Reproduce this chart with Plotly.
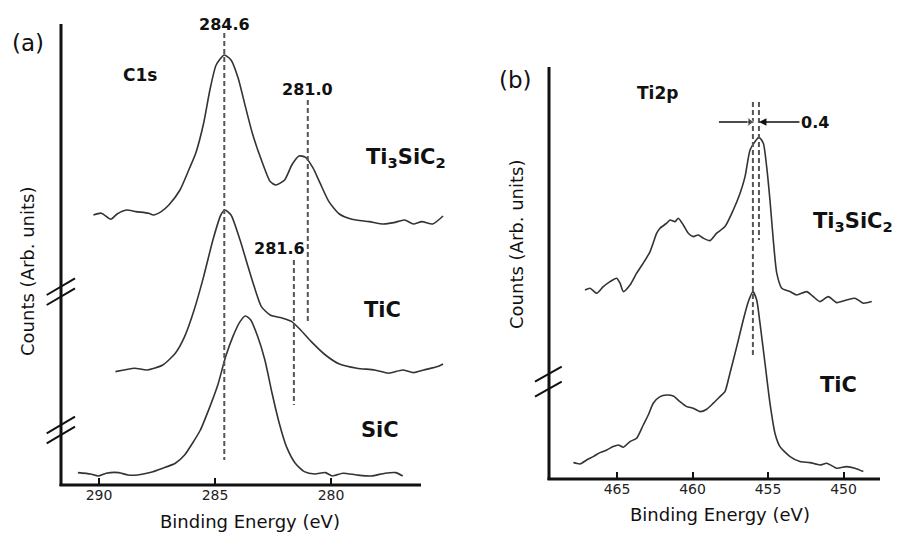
import plotly.graph_objects as go

# ---------------- (a) C1s spectra: binding energy (eV) / counts (arb.) ----------------
c1s_ti3sic2_E = [290.24, 289.90, 289.49, 289.22, 288.82, 288.41, 287.86, 287.66, 287.32, 286.99,
                 286.51, 286.10, 285.83, 285.49, 285.22, 284.95, 284.60, 284.31, 284.00, 283.69,
                 283.39, 283.00, 282.62, 282.38, 282.00, 281.69, 281.38, 281.11, 280.77, 280.47,
                 280.09, 279.64, 279.10, 278.35, 277.74, 277.29, 276.83, 276.45, 276.08, 275.62, 275.17]
c1s_ti3sic2_I = [135.0, 135.9, 132.9, 135.5, 137.5, 136.7, 135.9, 135.0, 136.7, 140.0,
                 147.5, 158.4, 165.9, 180.9, 197.5, 210.0, 215.0, 212.5, 203.4, 189.2,
                 175.9, 162.5, 151.7, 150.0, 152.5, 160.0, 164.5, 163.9, 158.4, 150.9,
                 141.7, 135.5, 132.9, 131.7, 130.5, 131.2, 132.5, 130.5, 131.7, 130.5, 134.5]

c1s_tic_E = [289.29, 288.47, 287.93, 287.25, 286.71, 286.31, 285.90, 285.49, 285.09, 284.75,
             284.57, 284.31, 283.92, 283.62, 283.31, 283.00, 282.62, 282.08, 281.69, 281.31,
             280.85, 280.24, 279.64, 278.88, 278.12, 277.51, 276.91, 276.45, 276.00, 275.40, 275.17]
c1s_tic_I = [56.7, 58.4, 57.5, 60.0, 65.9, 74.2, 87.5, 104.2, 122.5, 135.0,
             137.5, 135.0, 122.5, 110.9, 99.2, 89.2, 85.0, 83.4, 81.7, 77.5,
             71.7, 65.0, 60.5, 58.4, 57.5, 55.9, 57.5, 56.2, 57.5, 59.2, 60.5]

c1s_sic_E = [290.91, 290.37, 290.03, 289.69, 289.15, 288.75, 288.34, 287.80, 287.25, 286.71,
             286.31, 285.97, 285.63, 285.22, 284.88, 284.54, 284.23, 283.92, 283.69, 283.46,
             283.16, 282.85, 282.54, 282.23, 281.92, 281.54, 281.15, 280.70, 280.24, 279.94,
             279.49, 278.88, 278.27, 277.67, 277.21, 276.91]
c1s_sic_I = [6.2, 5.5, 4.5, 5.9, 6.2, 5.0, 5.0, 6.2, 8.4, 10.9,
             15.0, 20.9, 27.5, 39.2, 50.0, 64.2, 74.2, 81.7, 84.5, 82.5,
             74.2, 62.5, 45.9, 30.9, 19.2, 10.9, 6.7, 5.5, 6.2, 4.5,
             5.9, 5.0, 4.5, 5.9, 6.2, 4.5]

c1s_ticks = [290, 285, 280]
c1s_marks = [284.6, 281.0, 281.6]            # marked peak positions (eV)
c1s_mark_spans = [(226, 12.5), (192.5, 80.8), (112.5, 40.0)]

# ---------------- (b) Ti2p spectra ----------------
ti2p_ti3sic2_E = [467.12, 466.79, 466.34, 465.91, 465.46, 465.02, 464.80, 464.58, 464.14, 463.70,
                  463.26, 462.81, 462.37, 462.15, 461.71, 461.49, 461.16, 460.94, 460.61, 460.28,
                  459.95, 459.62, 459.28, 458.84, 458.40, 457.85, 457.30, 456.85, 456.52, 456.19,
                  455.86, 455.60, 455.31, 455.09, 454.87, 454.65, 454.42, 454.09, 453.54, 453.10,
                  452.44, 452.00, 451.56, 451.01, 450.45, 449.79, 449.24, 448.69, 448.13]
ti2p_ti3sic2_I = [94.5, 95.4, 92.9, 96.2, 98.7, 100.4, 97.9, 93.7, 97.0, 102.9,
                  107.9, 113.7, 122.9, 125.4, 127.9, 129.5, 128.7, 130.4, 127.0, 122.9,
                  121.2, 122.0, 120.4, 119.2, 122.9, 126.2, 134.5, 142.9, 151.2, 164.5,
                  168.7, 170.9, 167.9, 156.2, 139.5, 119.5, 102.9, 95.4, 93.7, 92.0,
                  93.7, 91.2, 88.7, 91.2, 88.2, 89.5, 90.4, 87.9, 88.7]

ti2p_tic_E = [467.89, 467.45, 467.01, 466.57, 466.13, 465.68, 465.25, 464.91, 464.58, 464.14,
              463.70, 463.26, 462.93, 462.60, 462.15, 461.71, 461.27, 460.83, 460.38, 459.95,
              459.50, 459.06, 458.62, 458.18, 457.85, 457.52, 457.07, 456.64, 456.30, 456.00,
              455.75, 455.53, 455.20, 454.87, 454.54, 454.21, 453.54, 452.88, 452.22, 451.56,
              451.11, 450.45, 449.79, 449.24, 448.69]
ti2p_tic_I = [8.2, 7.5, 9.5, 11.2, 13.2, 14.5, 16.2, 17.0, 15.9, 18.7,
              20.4, 27.0, 32.0, 37.9, 41.2, 42.0, 41.5, 38.7, 36.2, 35.4,
              33.7, 34.9, 37.9, 41.2, 43.7, 52.9, 66.2, 79.5, 88.7, 93.7,
              89.5, 77.9, 57.9, 37.9, 22.9, 16.2, 11.2, 8.7, 8.2, 7.0,
              7.9, 5.4, 6.2, 5.4, 3.7]

ti2p_ticks = [465, 460, 455, 450]
ti2p_marks = [456.0, 455.6]                  # TiC and Ti3SiC2 main peaks (eV)
ti2p_mark_spans = [(188.5, 60.5), (188.5, 119.5)]
ti2p_shift = round(ti2p_marks[0] - ti2p_marks[1], 1)

W, H = 900, 533
FONT = "DejaVu Sans"
INK = "#111111"
CURVE = dict(color="#333333", width=1.6, shape="spline", smoothing=0.6)
DASH = dict(color="#555555", width=2, dash="5px,3px")


def px(x, y):
    """Page pixel position -> paper coordinates."""
    return x / W, 1 - y / H


fig = go.Figure()

for E, I in [(c1s_ti3sic2_E, c1s_ti3sic2_I), (c1s_tic_E, c1s_tic_I), (c1s_sic_E, c1s_sic_I)]:
    fig.add_trace(go.Scatter(x=E, y=I, mode="lines", line=CURVE, xaxis="x", yaxis="y",
                             showlegend=False, hoverinfo="skip"))
for v, (top, bot) in zip(c1s_marks, c1s_mark_spans):
    fig.add_trace(go.Scatter(x=[v, v], y=[top, bot], mode="lines", line=DASH,
                             xaxis="x", yaxis="y", showlegend=False, hoverinfo="skip"))

for E, I in [(ti2p_ti3sic2_E, ti2p_ti3sic2_I), (ti2p_tic_E, ti2p_tic_I)]:
    fig.add_trace(go.Scatter(x=E, y=I, mode="lines", line=CURVE, xaxis="x2", yaxis="y2",
                             showlegend=False, hoverinfo="skip"))
for v, (top, bot) in zip(ti2p_marks, ti2p_mark_spans):
    fig.add_trace(go.Scatter(x=[v, v], y=[top, bot], mode="lines", line=DASH,
                             xaxis="x2", yaxis="y2", showlegend=False, hoverinfo="skip"))

# left arrow pointing at the TiC marker (shaft + head)
arrow_y = 178.5
fig.add_trace(go.Scatter(x=[ti2p_marks[0] + 2.25, ti2p_marks[0] + 0.2], y=[arrow_y, arrow_y],
                         mode="lines+markers", xaxis="x2", yaxis="y2",
                         line=dict(color=INK, width=1.5),
                         marker=dict(symbol="triangle-right", size=[0, 8], color=INK),
                         showlegend=False, hoverinfo="skip"))

tickfont = dict(family=FONT, size=14, color="#222")
axis_common = dict(showgrid=False, zeroline=False, showline=False, ticks="inside",
                   ticklen=7, tickwidth=2, tickcolor=INK, tickfont=tickfont)

x0a, ya = px(61, 485)
x1a, yta = px(445, 25)
x0b, yb = px(549, 479)
x1b, ytb = px(885, 68)

fig.update_layout(
    width=W, height=H, margin=dict(l=0, r=0, t=0, b=0),
    paper_bgcolor="white", plot_bgcolor="white",
    xaxis=dict(domain=[x0a, x1a], range=[291.638, 275.086], tickvals=c1s_ticks,
               anchor="y", **axis_common),
    yaxis=dict(domain=[ya, yta], range=[0, 230], visible=False, anchor="x"),
    xaxis2=dict(domain=[x0b, x1b], range=[469.503, 447.252], tickvals=ti2p_ticks,
                anchor="y2", **axis_common),
    yaxis2=dict(domain=[yb, ytb], range=[0, 205.5], visible=False, anchor="x2"),
)

# axis frames and break marks
shapes = []
def seg(xa, ya_, xb, yb_, w=3):
    p0, p1 = px(xa, ya_), px(xb, yb_)
    shapes.append(dict(type="line", xref="paper", yref="paper", x0=p0[0], y0=p0[1],
                       x1=p1[0], y1=p1[1], line=dict(color=INK, width=w)))

seg(61, 24, 61, 486)
seg(59.5, 485, 421, 485)
seg(549, 67, 549, 480)
seg(547.5, 479, 880, 479)
for y in (295, 305, 433.3, 443.3):
    seg(46.7, y, 75, y - 16.7, 2)
for y in (381.7, 396.7):
    seg(535, y, 561.7, y - 15, 2)
fig.update_layout(shapes=shapes)

ann = []
def label(text, x, y, size, bold=False, **kw):
    xp, yp = px(x, y)
    ann.append(dict(text=f"<b>{text}</b>" if bold else text, x=xp, y=yp, xref="paper",
                    yref="paper", showarrow=False, xanchor="center", yanchor="middle",
                    font=dict(family=FONT, size=size, color=INK), **kw))

label("(a)", 28, 43, 23)
label("C1s", 140, 75, 17, True)
label("Ti<sub>3</sub>SiC<sub>2</sub>", 406, 158, 21, True)
label("TiC", 382, 310, 21, True)
label("SiC", 380, 430, 21, True)
label("Counts (Arb. units)", 27, 272, 18, textangle=-90)
label("Binding Energy (eV)", 250, 521, 18)
label(f"{c1s_marks[2]:.1f}", 279, 248, 16, True)

label("(b)", 515, 80, 23)
label("Ti2p", 657, 93, 17, True)
label("Ti<sub>3</sub>SiC<sub>2</sub>", 853, 222, 21, True)
label("TiC", 838, 385, 21, True)
label("Counts (Arb. units)", 517, 245, 18, textangle=-90)
label("Binding Energy (eV)", 720, 514, 18)

# peak labels sitting on top of their dashed markers
for v, y in [(c1s_marks[0], 24), (c1s_marks[1], 89)]:
    ann.append(dict(text=f"<b>{v:.1f}</b>", x=v, y=px(0, y)[1], xref="x", yref="paper",
                    showarrow=False, xanchor="center", yanchor="middle",
                    font=dict(family=FONT, size=16, color=INK)))

# shift value with its arrow pointing at the Ti3SiC2 marker
ann.append(dict(text=f"<b>{ti2p_shift}</b>", x=ti2p_marks[1], y=arrow_y, xref="x2", yref="y2",
                showarrow=True, ax=56, ay=0, arrowhead=2, arrowsize=1, arrowwidth=1.5,
                arrowcolor=INK, standoff=0, font=dict(family=FONT, size=16, color=INK)))

fig.update_layout(annotations=ann)
fig.write_html("out.html")
